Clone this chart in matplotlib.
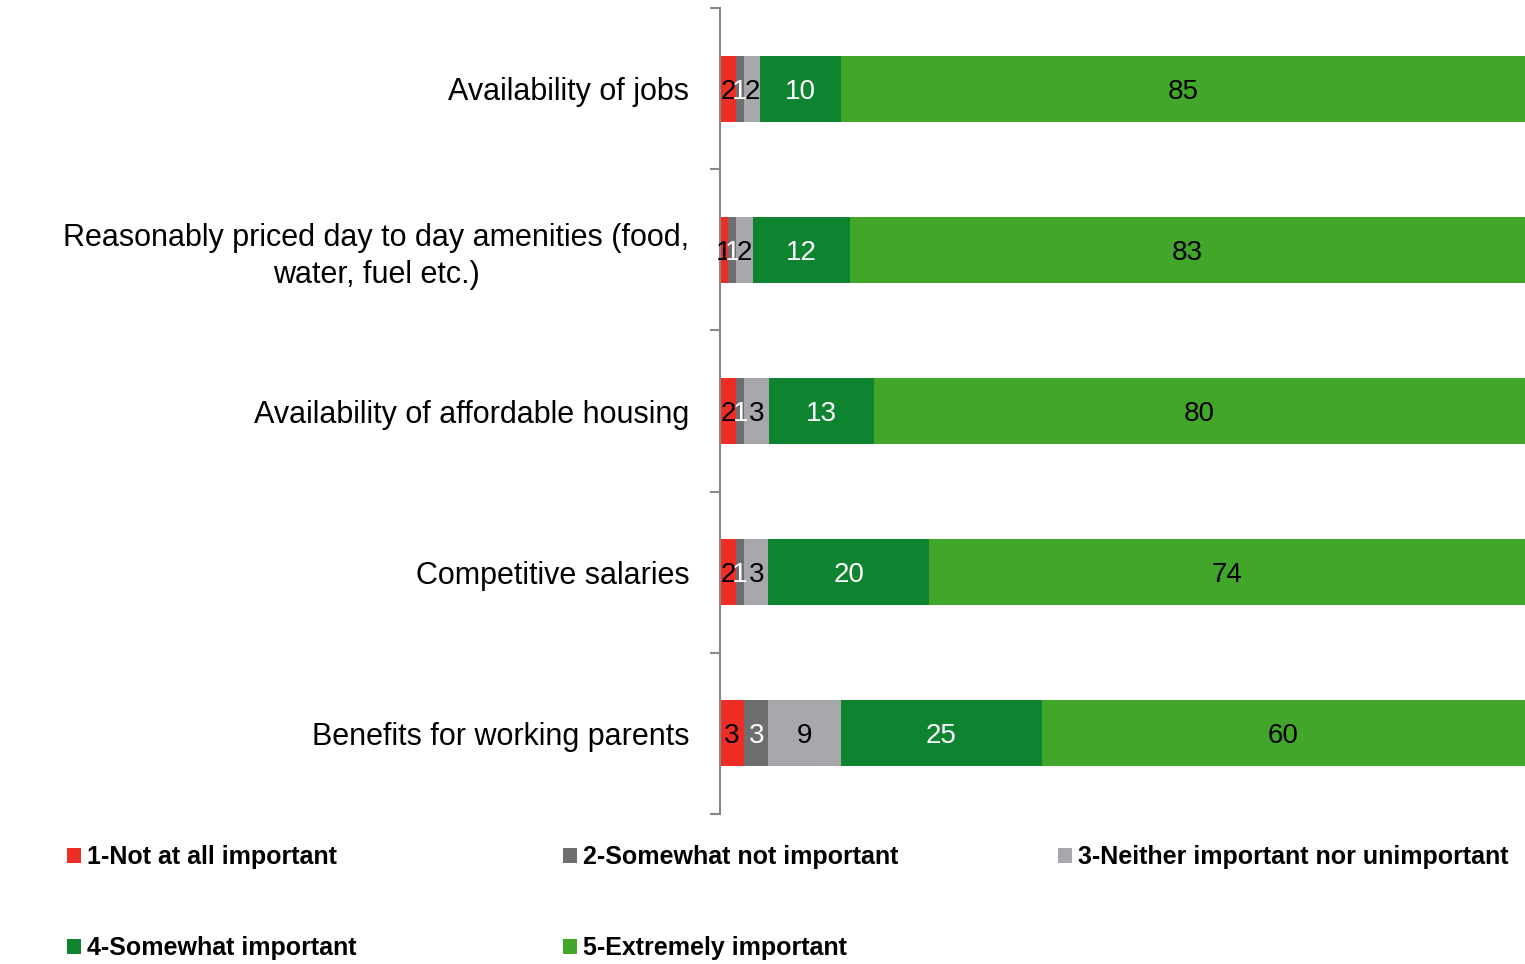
import matplotlib
matplotlib.use("Agg")
import matplotlib.pyplot as plt
import numpy as np

plt.rcParams['font.family'] = ['Liberation Sans', 'DejaVu Sans']

categories = [
    "Availability of jobs",
    "Reasonably priced day to day amenities (food,\nwater, fuel etc.)",
    "Availability of affordable housing",
    "Competitive salaries",
    "Benefits for working parents",
]
series_names = [
    "1-Not at all important",
    "2-Somewhat not important",
    "3-Neither important nor unimportant",
    "4-Somewhat important",
    "5-Extremely important",
]
not_at_all = [2, 1, 2, 2, 3]
somewhat_not = [1, 1, 1, 1, 3]
neither = [2, 2, 3, 3, 9]
somewhat = [10, 12, 13, 20, 25]
extremely = [85, 83, 80, 74, 60]

colors = ["#EE2E24", "#6E6E71", "#A7A8AC", "#0E8430", "#42A62B"]
text_colors = ["black", "white", "black", "white", "black"]

series = [not_at_all, somewhat_not, neither, somewhat, extremely]
data = np.array(series, dtype=float)
totals = data.sum(axis=0)
shares = data / totals * 100

fig = plt.figure(figsize=(15.25, 9.64), dpi=100)
ax = fig.add_axes([720/1525, 1-814/964, 805/1525, 806/964])

y = np.arange(len(categories))
left = np.zeros(len(categories))
containers = []
for i, name in enumerate(series_names):
    bars = ax.barh(y, shares[i], left=left, height=0.41, color=colors[i], label=name)
    containers.append(bars)
    for j in range(len(categories)):
        ax.text(left[j] + shares[i][j] / 2, y[j], f"{int(data[i][j])}",
                ha='center', va='center_baseline', fontsize=20, color=text_colors[i])
    left += shares[i]

ax.set_xlim(0, 100)
ax.set_ylim(len(categories) - 0.5, -0.5)
ax.set_yticks(y)
ax.set_yticklabels(categories, fontsize=22, multialignment='center', linespacing=1.3)
ax.tick_params(axis='y', which='major', length=0, pad=22)
ax.set_yticks(np.arange(-0.5, len(categories), 1), minor=True)
ax.tick_params(axis='y', which='minor', length=7, width=1.5, color='#888888', direction='out')
ax.set_xticks([])
for s in ['top', 'right', 'bottom']:
    ax.spines[s].set_visible(False)
ax.spines['left'].set_color('#888888')
ax.spines['left'].set_linewidth(1.5)

positions = [(67, 857), (563, 857), (1058, 857), (67, 948), (563, 948)]
for (px, py), bars, name in zip(positions, containers, series_names):
    fig.legend(handles=[bars], labels=[name], loc='center left',
               bbox_to_anchor=(px/1525, 1-py/964), frameon=False,
               prop={'weight': 'bold', 'size': 18}, handlelength=0.56,
               handleheight=0.56, handletextpad=0.25, borderpad=0, borderaxespad=0)

fig.savefig("out.png", dpi=100)
